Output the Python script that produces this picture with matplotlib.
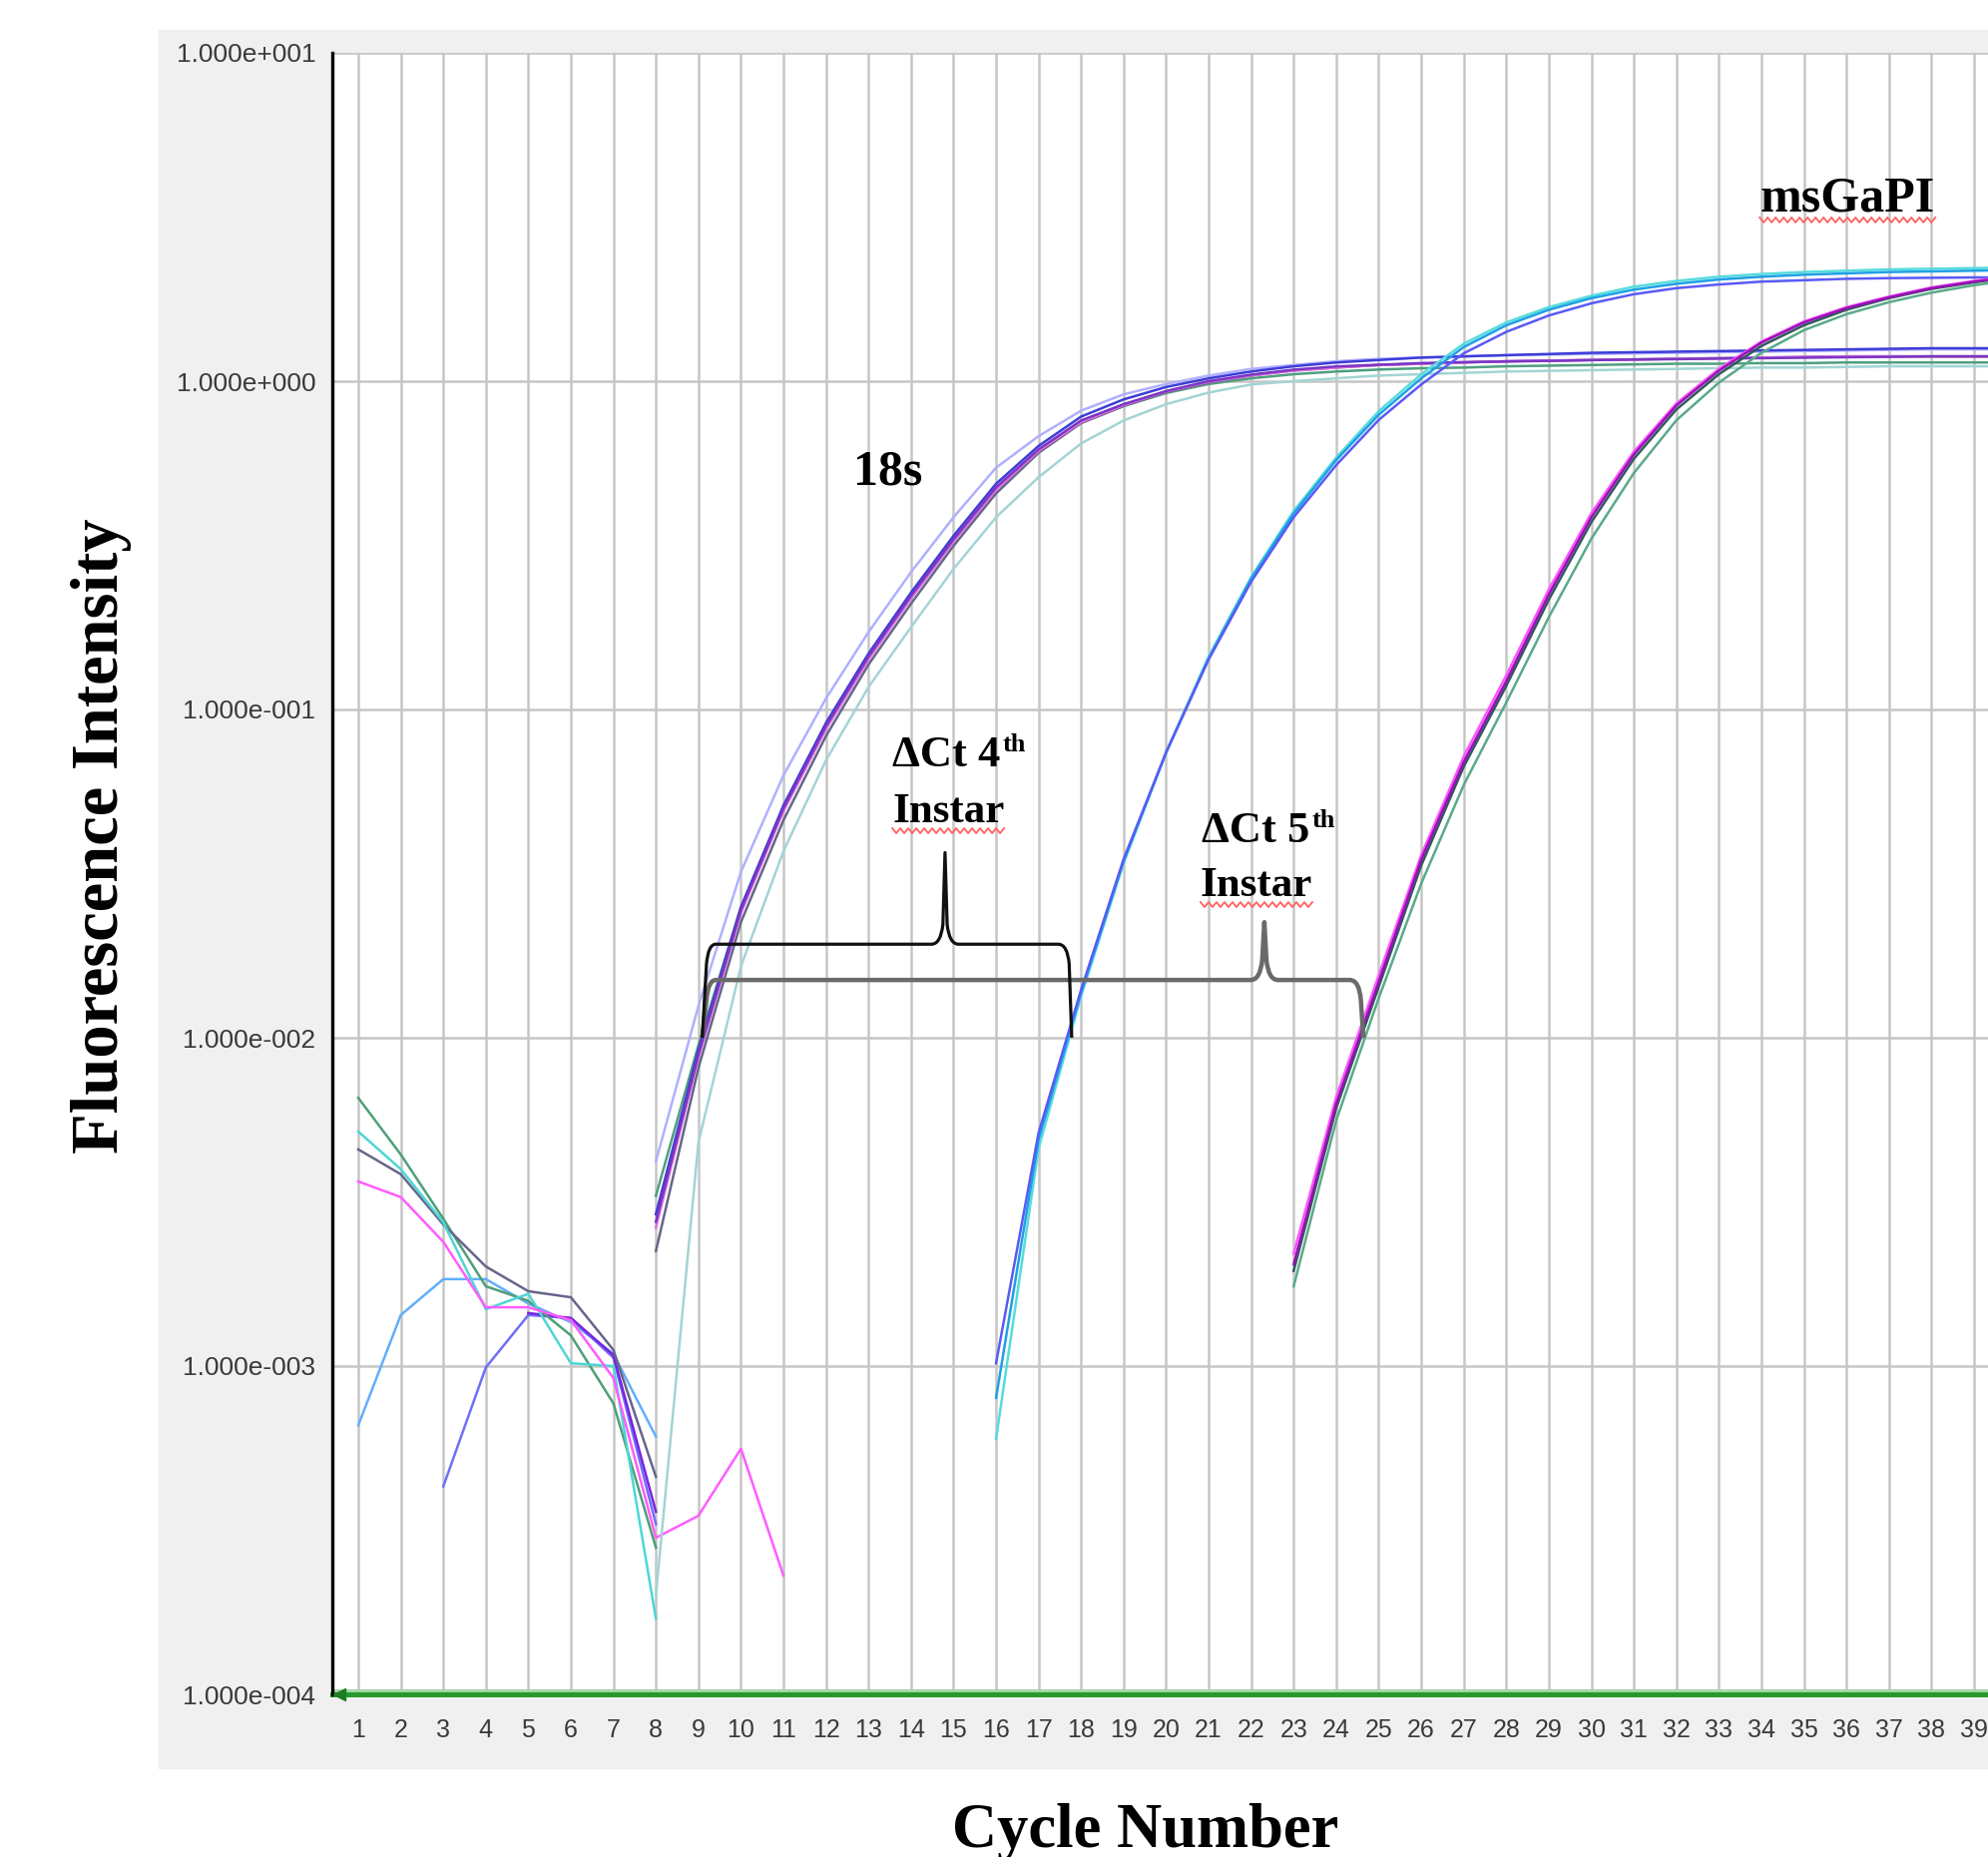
"""
qPCR amplification plot: 18s vs msGaPI (4th / 5th instar), log fluorescence.
"""
import numpy as np
import matplotlib
matplotlib.use("Agg")
import matplotlib.pyplot as plt
from matplotlib.path import Path
from matplotlib.patches import PathPatch, Rectangle
from matplotlib.lines import Line2D

W, H, DPI = 1992, 1861, 100
nan = np.nan

# ---- axes
tick_cycles = list(range(1, 40))
ytick_vals = [1e-4, 1e-3, 1e-2, 1e-1, 1e0, 1e1]
ytick_labels = ["1.000e-004", "1.000e-003", "1.000e-002",
                "1.000e-001", "1.000e+000", "1.000e+001"]

# ---- baseline noise, cycles 1..11 (nan = not drawn)
base_cycles = np.arange(1, 12)
base_green = [6.56e-3, 4.41e-3, 2.81e-3, 1.75e-3, 1.58e-3, 1.24e-3, 7.7e-4, 2.8e-4, nan, nan, nan]
base_cyan = [5.18e-3, 3.98e-3, 2.74e-3, 1.49e-3, 1.66e-3, 1.02e-3, 1.0e-3, 1.7e-4, nan, nan, nan]
base_slate = [4.57e-3, 3.84e-3, 2.70e-3, 2.01e-3, 1.69e-3, 1.62e-3, 1.12e-3, 4.6e-4, nan, nan, nan]
base_magenta = [3.65e-3, 3.27e-3, 2.39e-3, 1.51e-3, 1.51e-3, 1.38e-3, 9.2e-4, 3.0e-4, 3.5e-4, 5.6e-4, 2.3e-4]
base_sky = [6.6e-4, 1.43e-3, 1.84e-3, 1.84e-3, 1.55e-3, 1.36e-3, 1.09e-3, 6.1e-4, nan, nan, nan]
base_violet = [nan, nan, 4.3e-4, 9.9e-4, 1.43e-3, 1.40e-3, 1.06e-3, 3.3e-4, nan, nan, nan]
base_purple = [nan, nan, nan, nan, 1.45e-3, 1.40e-3, 1.08e-3, 3.6e-4, nan, nan, nan]

# ---- 18s reference curves, cycles 8..40
c18 = np.arange(8, 41)
s18_peri = [4.2e-3, 0.0125, 0.032, 0.063, 0.108, 0.172, 0.262, 0.385, 0.545, 0.68,
            0.813, 0.912, 0.98, 1.04, 1.09, 1.12, 1.15, 1.17, 1.18, 1.19,
            1.20, 1.205, 1.21, 1.215, 1.22, 1.225, 1.23, 1.235, 1.24, 1.245, 1.25, 1.25, 1.25]
s18_blue = [2.9e-3, 9.2e-3, 0.025, 0.051, 0.091, 0.148, 0.227, 0.338, 0.487, 0.635,
            0.78, 0.88, 0.96, 1.02, 1.07, 1.11, 1.14, 1.16, 1.18, 1.19,
            1.20, 1.21, 1.22, 1.225, 1.23, 1.235, 1.24, 1.245, 1.25, 1.255, 1.26, 1.26, 1.26]
s18_violet = [2.75e-3, 8.9e-3, 0.0245, 0.050, 0.089, 0.145, 0.222, 0.330, 0.475, 0.62,
              0.759, 0.851, 0.933, 1.00, 1.047, 1.084, 1.109, 1.122, 1.135, 1.143,
              1.148, 1.153, 1.159, 1.164, 1.167, 1.172, 1.175, 1.179, 1.183, 1.186, 1.19, 1.19, 1.19]
s18_pink = [2.64e-3, 8.7e-3, 0.024, 0.049, 0.087, 0.142, 0.218, 0.325, 0.467, 0.613,
            0.75, 0.845, 0.93, 0.995, 1.04, 1.075, 1.10, 1.12, 1.13, 1.14,
            1.15, 1.155, 1.16, 1.165, 1.17, 1.175, 1.18, 1.185, 1.19, 1.19, 1.19, 1.19, 1.19]
s18_slate = [2.24e-3, 8.1e-3, 0.0225, 0.046, 0.083, 0.137, 0.21, 0.315, 0.455, 0.605,
             0.745, 0.84, 0.925, 0.99, 1.04, 1.08, 1.10, 1.12, 1.13, 1.14,
             1.15, 1.155, 1.16, 1.165, 1.17, 1.175, 1.18, 1.185, 1.19, 1.19, 1.19, 1.19, 1.19]
s18_green = [3.3e-3, 9.5e-3, 0.025, 0.050, 0.088, 0.143, 0.219, 0.326, 0.468, 0.61,
             0.748, 0.84, 0.92, 0.98, 1.02, 1.05, 1.07, 1.085, 1.095, 1.10,
             1.11, 1.115, 1.12, 1.125, 1.13, 1.13, 1.135, 1.135, 1.14, 1.14, 1.14, 1.14, 1.14]
s18_teal = [2.0e-4, 4.8e-3, 0.0165, 0.037, 0.070, 0.117, 0.178, 0.268, 0.385, 0.51,
            0.646, 0.759, 0.851, 0.923, 0.977, 1.0, 1.02, 1.04, 1.05, 1.06,
            1.07, 1.075, 1.08, 1.085, 1.09, 1.095, 1.10, 1.10, 1.105, 1.11, 1.11, 1.11, 1.11]

# ---- msGaPI, 4th instar samples, cycles 16..40
c_mid = np.arange(16, 41)
mid_blue = [1.02e-3, 5.13e-3, 0.0140, 0.035, 0.074, 0.142, 0.245, 0.385, 0.555, 0.762,
            0.977, 1.216, 1.413, 1.585, 1.726, 1.84, 1.92, 1.97, 2.01, 2.03,
            2.05, 2.06, 2.065, 2.07, 2.07]
mid_sky = [8.0e-4, 4.9e-3, 0.0137, 0.0345, 0.074, 0.143, 0.25, 0.395, 0.575, 0.79,
           1.02, 1.27, 1.48, 1.65, 1.79, 1.90, 1.98, 2.04, 2.08, 2.11,
           2.13, 2.15, 2.16, 2.17, 2.18]
mid_cyan = [6.0e-4, 4.6e-3, 0.0134, 0.034, 0.074, 0.145, 0.253, 0.402, 0.585, 0.81,
            1.05, 1.30, 1.51, 1.68, 1.82, 1.94, 2.02, 2.08, 2.12, 2.15,
            2.17, 2.19, 2.20, 2.21, 2.22]

# ---- msGaPI, 5th instar samples, cycles 23..40
c_late = np.arange(23, 41)
late_magenta = [2.2e-3, 6.6e-3, 0.0155, 0.036, 0.072, 0.127, 0.232, 0.396, 0.61, 0.855,
                1.09, 1.32, 1.52, 1.68, 1.81, 1.93, 2.02, 2.10]
late_purple = [2.04e-3, 6.3e-3, 0.0148, 0.0349, 0.0692, 0.122, 0.224, 0.385, 0.598, 0.843,
               1.076, 1.31, 1.51, 1.67, 1.80, 1.92, 2.01, 2.09]
late_dark = [1.95e-3, 6.1e-3, 0.0143, 0.0335, 0.067, 0.118, 0.216, 0.372, 0.58, 0.82,
             1.05, 1.28, 1.48, 1.65, 1.79, 1.91, 2.0, 2.08]
late_green = [1.75e-3, 5.6e-3, 0.0132, 0.0295, 0.0589, 0.105, 0.191, 0.331, 0.525, 0.76,
              0.99, 1.22, 1.43, 1.60, 1.74, 1.86, 1.96, 2.04]

SERIES = [
    (base_cycles, base_sky, "#62aefc"),
    (base_cycles, base_violet, "#6f6ff8"),
    (base_cycles, base_purple, "#7a22e0"),
    (base_cycles, base_green, "#4f9f78"),
    (base_cycles, base_slate, "#66668a"),
    (base_cycles, base_cyan, "#4dd6d6"),
    (base_cycles, base_magenta, "#ff5cff"),
    (c18, s18_teal, "#a4d4d4"),
    (c18, s18_peri, "#b0b0ff"),
    (c18, s18_green, "#4f9f80"),
    (c18, s18_slate, "#66668a"),
    (c18, s18_pink, "#e070e0"),
    (c18, s18_blue, "#3d3dd8"),
    (c18, s18_violet, "#7a36c4"),
    (c_mid, mid_cyan, "#55dcdc"),
    (c_mid, mid_sky, "#1fa0e6"),
    (c_mid, mid_blue, "#5a5af5"),
    (c_late, late_green, "#5aaa88"),
    (c_late, late_dark, "#2e5a5a"),
    (c_late, late_magenta, "#ff55ff"),
    (c_late, late_purple, "#9a10b8"),
]


def brace(ax, x_left, x_right, x_tip, y_end, y_bar, y_tip, **kw):
    """Curly bracket; y given as log10 of fluorescence."""
    rx, ry = 0.32, 0.06
    pts = [
        (x_left, y_end), (x_left + 0.10, y_bar - ry),
        (x_left + 0.14, y_bar), (x_left + rx, y_bar),
        (x_tip - rx, y_bar),
        (x_tip - 0.10, y_bar), (x_tip - 0.05, y_bar + ry),
        (x_tip, y_tip),
        (x_tip + 0.05, y_bar + ry),
        (x_tip + 0.10, y_bar), (x_tip + rx, y_bar),
        (x_right - rx, y_bar),
        (x_right - 0.10, y_bar), (x_right - 0.06, y_bar - ry),
        (x_right, y_end),
    ]
    C, L, M = Path.CURVE3, Path.LINETO, Path.MOVETO
    codes = [M, L, C, C, L, C, C, L, L, C, C, L, C, C, L]
    verts = [(x, 10 ** y) for x, y in pts]
    ax.add_patch(PathPatch(Path(verts, codes), fill=False, capstyle="butt",
                           joinstyle="round", **kw))


def main():
    fig = plt.figure(figsize=(W / DPI, H / DPI), dpi=DPI, facecolor="white")
    # grey software panel
    fig.add_artist(Rectangle((159 / W, 1 - 1772 / H), (W - 159) / W, (1772 - 30) / H,
                             transform=fig.transFigure, color="#f0f0f0", zorder=0))

    ax = fig.add_axes([333 / W, 1 - 1698 / H, (W - 333) / W, (1698 - 53) / H])
    ax.set_facecolor("white")
    ax.set_yscale("log")
    ax.set_xlim(0.39, 39.33)
    ax.set_ylim(1e-4, 1e1)

    ax.set_xticks(tick_cycles)
    ax.set_xticklabels([str(c) for c in tick_cycles], fontsize=18,
                       family="Liberation Sans", color="#3a3a3a")
    ax.set_yticks(ytick_vals)
    ax.set_yticklabels(ytick_labels, fontsize=19, family="Liberation Sans", color="#3a3a3a")
    ax.yaxis.set_minor_locator(matplotlib.ticker.NullLocator())
    ax.tick_params(axis="x", length=0, pad=17)
    ax.tick_params(axis="y", length=0, pad=12)
    ax.grid(True, which="major", color="#c6c6c6", lw=1.8)
    ax.set_axisbelow(True)

    for side in ("top", "right", "bottom"):
        ax.spines[side].set_visible(False)
    ax.spines["left"].set_color("black")
    ax.spines["left"].set_linewidth(2.4)
    ax.spines["left"].set_zorder(6)

    # green baseline axis with small arrow head
    ax.axhline(1.022e-4, color="#a6d6a6", lw=3.0, zorder=5)
    ax.axhline(1e-4, color="#249a2a", lw=3.6, clip_on=False, zorder=6)
    ax.plot([0.55], [1e-4], marker="<", ms=8, color="#1d7d22", clip_on=False, zorder=7)

    for xs, ys, col in SERIES:
        ax.plot(xs, ys, color=col, lw=1.8, solid_joinstyle="round", zorder=3)

    # delta-Ct brackets (4th: black, 5th: grey)
    brace(ax, 9.09, 24.64, 22.31, -2.0, -1.824, -1.648, color="#6a6a6a", lw=3.2, zorder=8)
    brace(ax, 9.09, 17.78, 14.80, -2.0, -1.715, -1.436, color="#111111", lw=2.3, zorder=9)

    serif = dict(family="Liberation Serif", weight="bold", color="black")
    ax.text(12.64, 0.484, "18s", fontsize=36, va="baseline", zorder=10, **serif)
    t_gapi = ax.text(33.96, 3.30, "msGaPI", fontsize=36, va="baseline", zorder=10, **serif)
    t_d4 = ax.text(13.56, 0.0672, "\u0394Ct 4", fontsize=32, va="baseline", zorder=10, **serif)
    t_i4 = ax.text(13.56, 0.0455, "Instar", fontsize=31, va="baseline", zorder=10, **serif)
    t_d5 = ax.text(20.84, 0.0393, "\u0394Ct 5", fontsize=32, va="baseline", zorder=10, **serif)
    t_i5 = ax.text(20.81, 0.0271, "Instar", fontsize=31, va="baseline", zorder=10, **serif)

    fig.text(102 / W, 1 - 838 / H, "Fluorescence Intensity", rotation=90,
             ha="center", va="center", fontsize=48, **serif)
    fig.text(1148 / W, 1 - 1851 / H, "Cycle Number", ha="center", va="baseline",
             fontsize=45, **serif)

    fig.canvas.draw()
    renderer = fig.canvas.get_renderer()

    def baseline_px(t):
        return t.get_transform().transform(t.get_position())[1]

    # superscripts
    for t in (t_d4, t_d5):
        bb = t.get_window_extent(renderer)
        fig.text((bb.x1 + 2) / W, (baseline_px(t) + 15) / H, "th", fontsize=19,
                 va="baseline", **serif)

    # spell-check squiggles under words
    for t in (t_gapi, t_i4, t_i5):
        bb = t.get_window_extent(renderer)
        xs = np.arange(bb.x0, bb.x1 + 1, 4.0)
        ys = baseline_px(t) - 9 + np.where(np.arange(len(xs)) % 2 == 0, 2.5, -2.5)
        fig.add_artist(Line2D(xs / W, ys / H, transform=fig.transFigure,
                              color="#ff6060", lw=1.3, zorder=11))

    fig.savefig("out.png", dpi=DPI, facecolor="white")
    plt.close(fig)


if __name__ == "__main__":
    main()
